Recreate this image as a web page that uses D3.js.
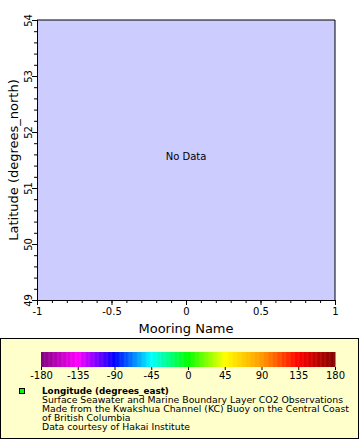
<!DOCTYPE html>
<html><head><meta charset="utf-8">
<script src="https://cdn.jsdelivr.net/npm/d3@7"></script>
<style>body{margin:0;background:#fff}svg{display:block;font-family:"DejaVu Sans",sans-serif}</style>
</head><body>
<svg id="c" width="360" height="440"></svg>
<script>
const xDomain = [-1, 1];
const yDomain = [49, 54];
const xTicks = [-1, -0.5, 0, 0.5, 1];
const yTicks = [49, 50, 51, 52, 53, 54];
const colorStops = [-180, -135, -90, -45, 0, 45, 90, 135, 180];
const colorValues = ["#800080", "#ff00ff", "#0000ff", "#00ffff", "#00ff00", "#ffff00", "#ff9900", "#ff0000", "#800000"];
const legendLines = [
  "Surface Seawater and Marine Boundary Layer CO2 Observations",
  "Made from the Kwakshua Channel (KC) Buoy on the Central Coast",
  "of British Columbia",
  "Data courtesy of Hakai Institute"
];
const legendTitle = "Longitude (degrees_east)";
const xTitle = "Mooring Name";
const yTitle = "Latitude (degrees_north)";

const svg = d3.select("#c");
const L = 37, R = 335, T = 20, B = 300;
const x = d3.scaleLinear().domain(xDomain).range([L, R]);
const y = d3.scaleLinear().domain(yDomain).range([B, T]);

svg.append("rect").attr("x", L).attr("y", T).attr("width", R - L).attr("height", B - T)
  .attr("fill", "#ccccff");

const xAxis = d3.axisBottom(x).tickValues(xTicks).tickFormat(d => String(d)).tickSize(5).tickPadding(3);
const xMinor = d3.axisBottom(x).tickValues(d3.range(-10, 11).map(d => d / 10)).tickFormat("").tickSize(3);
const yAxis = d3.axisLeft(y).tickValues(yTicks).tickFormat(d => String(d)).tickSize(5).tickPadding(3);
const yMinor = d3.axisLeft(y).tickValues(d3.range(245, 271).map(d => d / 5)).tickFormat("").tickSize(3);

function style(g) {
  g.select(".domain").attr("stroke", "#000");
  g.selectAll("line").attr("stroke", "#000");
  g.selectAll("text").attr("fill", "#000").attr("font-size", 10).attr("font-family", "DejaVu Sans");
}
svg.append("g").attr("transform", `translate(0,${B})`).call(xMinor).call(style);
svg.append("g").attr("transform", `translate(0,${B})`).call(xAxis).call(style);
svg.append("g").attr("transform", `translate(${L},0)`).call(yMinor).call(style);
const yg = svg.append("g").attr("transform", `translate(${L},0)`).call(yAxis).call(style);
yg.selectAll(".tick text").attr("text-anchor", "middle")
  .attr("transform", "translate(-9,0) rotate(-90)").attr("x", 0).attr("y", 0).attr("dy", "0.35em");
svg.append("line").attr("x1", L).attr("x2", R).attr("y1", T).attr("y2", T).attr("stroke", "#000");
svg.append("line").attr("x1", R).attr("x2", R).attr("y1", T).attr("y2", B).attr("stroke", "#000");

svg.append("text").attr("x", (L + R) / 2).attr("y", 160).attr("text-anchor", "middle")
  .attr("font-size", 10).text("No Data");

svg.append("text").attr("x", (L + R) / 2).attr("y", 333).attr("text-anchor", "middle")
  .attr("font-size", 13).text(xTitle);
svg.append("text").attr("transform", `translate(18,${(T + B) / 2}) rotate(-90)`).attr("text-anchor", "middle")
  .attr("font-size", 13).text(yTitle);

// legend
svg.append("defs").append("clipPath").attr("id", "lg").append("rect")
  .attr("x", 1).attr("y", 339).attr("width", 357).attr("height", 99);
svg.append("rect").attr("x", 0.5).attr("y", 338.5).attr("width", 358).attr("height", 100)
  .attr("fill", "#ffffcc").attr("stroke", "#000");
const cx = d3.scaleLinear().domain([-180, 180]).range([41, 335]);
const color = d3.scaleLinear().domain(colorStops).range(colorValues);
const steps = d3.range(-180, 180, 1);
svg.append("g").selectAll("rect").data(steps).join("rect")
  .attr("x", d => cx(d)).attr("y", 352).attr("width", cx(1) - cx(0) + 0.5).attr("height", 15)
  .attr("fill", d => color(d + 0.5));
const cAxis = d3.axisBottom(cx).tickValues(colorStops).tickFormat(d => String(d)).tickSize(3).tickPadding(2);
const cg = svg.append("g").attr("transform", "translate(0,367)").call(cAxis).call(style);
cg.select(".domain").remove();

svg.append("rect").attr("x", 19.5).attr("y", 388.5).attr("width", 5).attr("height", 5)
  .attr("fill", "#00ff00").attr("stroke", "#000");
const lt = svg.append("g").attr("clip-path", "url(#lg)");
lt.append("text").attr("x", 42).attr("y", 394).attr("font-size", 8.8).attr("font-weight", "bold").text(legendTitle);
lt.append("g").selectAll("text").data(legendLines).join("text")
  .attr("x", 42).attr("y", (d, i) => 403 + i * 9).attr("font-size", 9.3).text(d => d);
</script>
</body></html>
